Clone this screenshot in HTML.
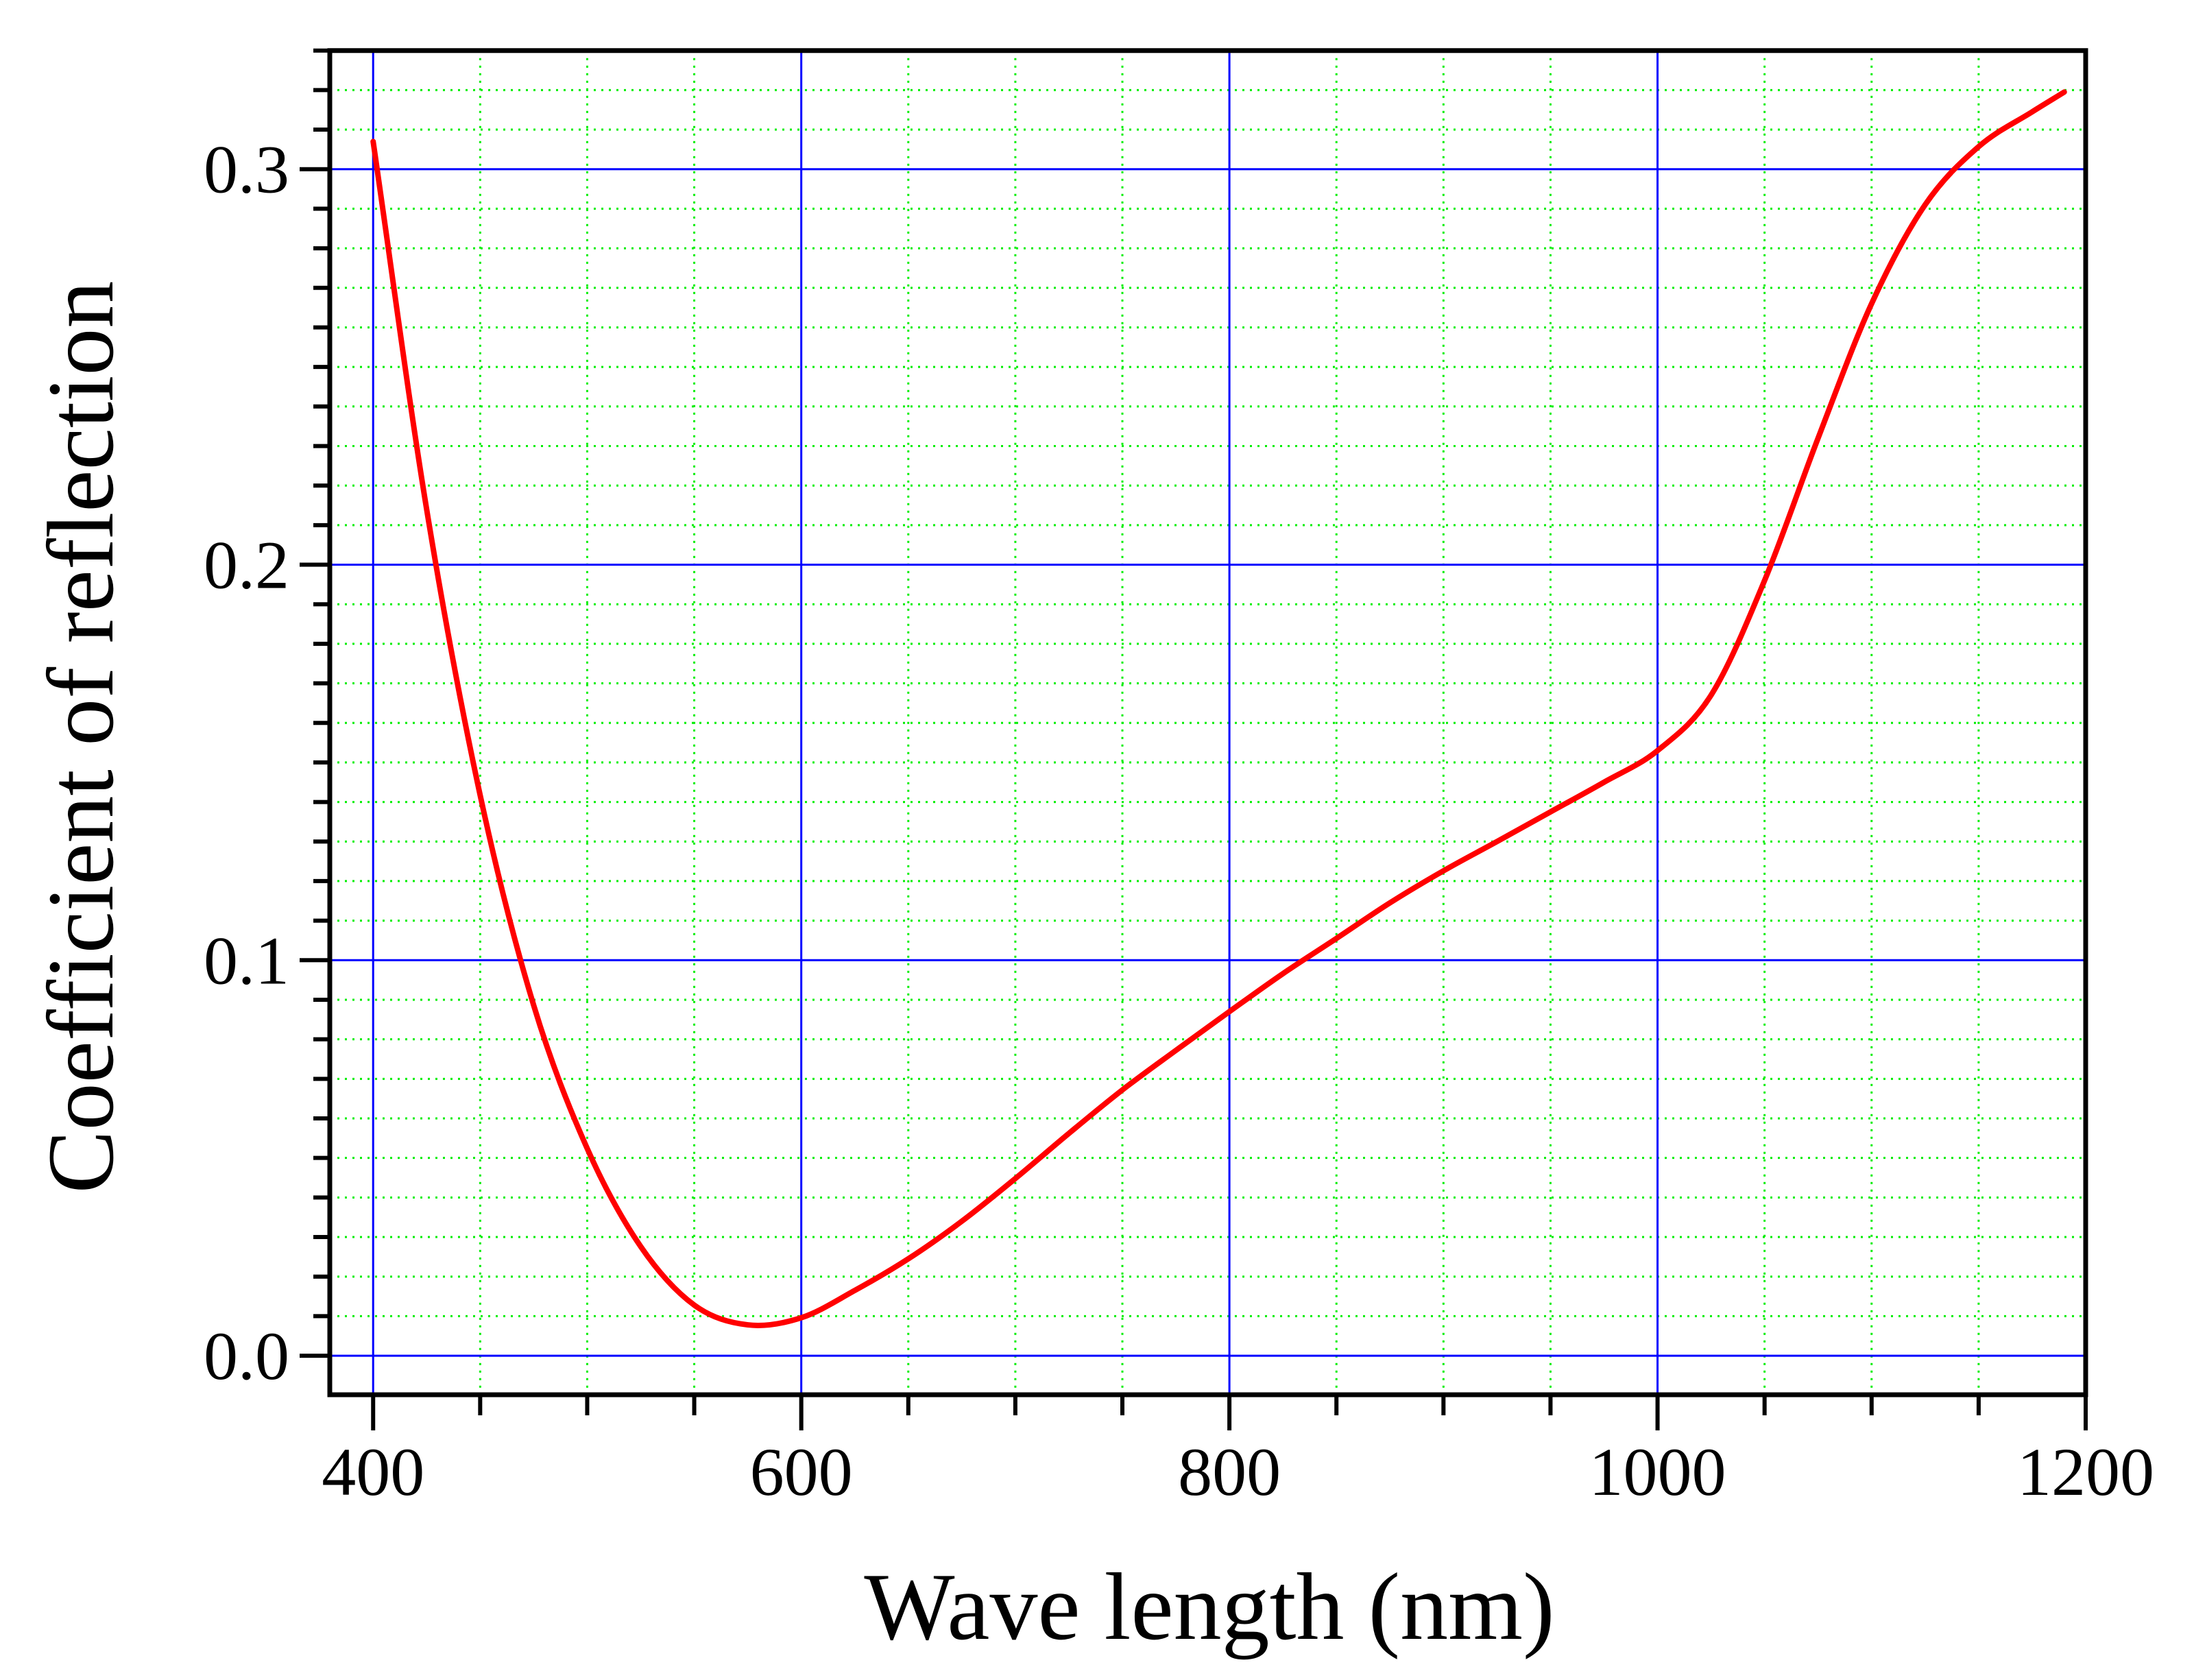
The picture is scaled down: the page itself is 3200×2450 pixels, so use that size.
<!DOCTYPE html>
<html><head><meta charset="utf-8"><style>
html,body{margin:0;padding:0;background:#fff}
svg{display:block}
text{font-family:"Liberation Serif",serif;fill:#000}
</style></head><body>
<svg id="chart" width="3200" height="2450" viewBox="0 0 3200 2450" xmlns="http://www.w3.org/2000/svg">
<g id="grid"></g>
<g id="series"></g>
<g id="axes"></g>
<text x="1764" y="2390" font-size="140" text-anchor="middle">Wave length (nm)</text>
<text transform="translate(164,1075) rotate(-90)" font-size="138" text-anchor="middle">Coefficient of reflection</text>
</svg>
<script>
const wavelengths = [400,425,450,475,500,525,550,575,600,625,650,675,700,725,750,775,800,825,850,875,900,925,950,975,1000,1025,1050,1075,1100,1125,1150,1175,1190];
const reflection = [0.307,0.214,0.1417,0.0886,0.0524,0.0276,0.0128,0.0078,0.0096,0.0165,0.0245,0.034,0.0448,0.0562,0.0672,0.0772,0.087,0.0966,0.1055,0.1145,0.1226,0.130,0.1375,0.145,0.153,0.167,0.196,0.232,0.266,0.291,0.3057,0.3145,0.3195];
const xTicks = [400,600,800,1000,1200];
const xTickLabels = ["400","600","800","1000","1200"];
const yTicks = [0,0.1,0.2,0.3];
const yTickLabels = ["0.0","0.1","0.2","0.3"];
const xMin=379.75,xMax=1200,yMin=-0.00987,yMax=0.33;
const L=481,R=3042,T=73.7,B=2034;
function X(v){return L+(v-xMin)/(xMax-xMin)*(R-L);}
function Y(v){return B-(v-yMin)/(yMax-yMin)*(B-T);}
const NS="http://www.w3.org/2000/svg";
function mk(tag,attrs,parent){const e=document.createElementNS(NS,tag);for(const k in attrs)e.setAttribute(k,attrs[k]);parent.appendChild(e);return e;}
const grid=document.getElementById('grid'),axes=document.getElementById('axes'),series=document.getElementById('series');
for(let v=400;v<1200;v+=50){if(v%200===0)continue;
 const l=mk('line',{x1:X(v),x2:X(v),y1:T,y2:B,stroke:'#00ee00','stroke-width':3,'stroke-dasharray':'3 8'},grid);
 
 }
for(let i=0;i<=33;i++){const v=i/100; if(i%10===0)continue;
 const l=mk('line',{x1:L,x2:R,y1:Y(v),y2:Y(v),stroke:'#00ee00','stroke-width':3,'stroke-dasharray':'3 8'},grid);
 
 }
xTicks.forEach(v=>{if(v>=xMax)return;
 const l=mk('line',{x1:X(v),x2:X(v),y1:T,y2:B,stroke:'#0000ff','stroke-width':3},grid);
 
 });
yTicks.forEach(v=>{
 const l=mk('line',{x1:L,x2:R,y1:Y(v),y2:Y(v),stroke:'#0000ff','stroke-width':3},grid);
 
 });
const n=wavelengths.length, m=[];
for(let i=0;i<n;i++){
 if(i===0){m.push((reflection[1]-reflection[0])/(wavelengths[1]-wavelengths[0]));continue;}
 if(i===n-1){m.push((reflection[i]-reflection[i-1])/(wavelengths[i]-wavelengths[i-1]));continue;}
 const h0=wavelengths[i]-wavelengths[i-1],h1=wavelengths[i+1]-wavelengths[i];
 const d0=(reflection[i]-reflection[i-1])/h0,d1=(reflection[i+1]-reflection[i])/h1;
 m.push((d0*h1+d1*h0)/(h0+h1));}
let d='M'+X(wavelengths[0])+','+Y(reflection[0]);
for(let i=0;i<n-1;i++){const h=wavelengths[i+1]-wavelengths[i];
 d+=' C'+X(wavelengths[i]+h/3)+','+Y(reflection[i]+m[i]*h/3)+' '+X(wavelengths[i+1]-h/3)+','+Y(reflection[i+1]-m[i+1]*h/3)+' '+X(wavelengths[i+1])+','+Y(reflection[i+1]);}
const path=mk('path',{d:d,fill:'none',stroke:'#ff0000','stroke-width':8,'stroke-linejoin':'round','stroke-linecap':'round'},series);


const fr=mk('path',{d:`M${L},${B} V${T} H${R} V${B} Z`,fill:'none',stroke:'#000','stroke-width':7},axes);


for(let v=400;v<=1200;v+=50){const major=v%200===0;
 const t=mk('line',{x1:X(v),x2:X(v),y1:B,y2:B+(major?52:30),stroke:'#000','stroke-width':6},axes);
 
 }
xTicks.forEach((v,i)=>{const t=mk('text',{x:X(v),y:2180,'font-size':100,'text-anchor':'middle'},axes);t.textContent=xTickLabels[i];
 
 });
for(let i=0;i<=33;i++){const v=i/100,major=i%10===0;
 const t=mk('line',{x1:L-(major?44:24),x2:L,y1:Y(v),y2:Y(v),stroke:'#000','stroke-width':6},axes);
 
 }
yTicks.forEach((v,i)=>{const t=mk('text',{x:422,y:Y(v)+34,'font-size':100,'text-anchor':'end'},axes);t.textContent=yTickLabels[i];
 
 });
</script>
</body></html>
